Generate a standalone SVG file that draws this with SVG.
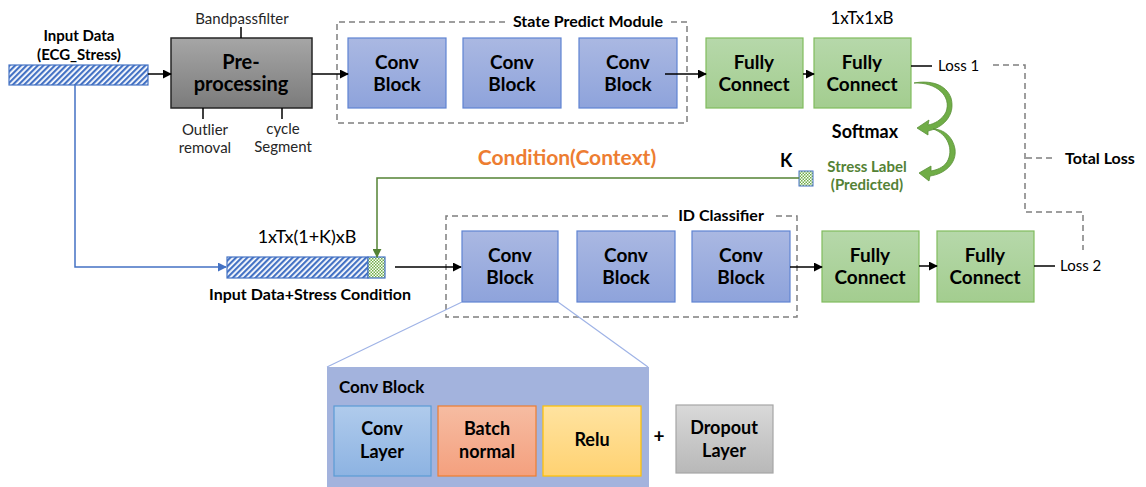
<svg xmlns="http://www.w3.org/2000/svg" width="1146" height="487" viewBox="0 0 1146 487">
<defs>
<linearGradient id="gBlue" x1="0" y1="0" x2="0" y2="1"><stop offset="0" stop-color="#aab8e2"/><stop offset="1" stop-color="#8ea3db"/></linearGradient>
<linearGradient id="gGreen" x1="0" y1="0" x2="0" y2="1"><stop offset="0" stop-color="#b6d8aa"/><stop offset="1" stop-color="#a3cd8f"/></linearGradient>
<linearGradient id="gGray" x1="0" y1="0" x2="0" y2="1"><stop offset="0" stop-color="#a6a6a6"/><stop offset="1" stop-color="#7b7b7b"/></linearGradient>
<linearGradient id="gLBlue" x1="0" y1="0" x2="0" y2="1"><stop offset="0" stop-color="#b0cbec"/><stop offset="1" stop-color="#8db3e2"/></linearGradient>
<linearGradient id="gOrange" x1="0" y1="0" x2="0" y2="1"><stop offset="0" stop-color="#f6bca2"/><stop offset="1" stop-color="#f4a07e"/></linearGradient>
<linearGradient id="gYellow" x1="0" y1="0" x2="0" y2="1"><stop offset="0" stop-color="#ffe3a0"/><stop offset="1" stop-color="#ffd272"/></linearGradient>
<linearGradient id="gDrop" x1="0" y1="0" x2="0" y2="1"><stop offset="0" stop-color="#d9d9d9"/><stop offset="1" stop-color="#b8b8b8"/></linearGradient>
<pattern id="hatch" width="4" height="4" patternUnits="userSpaceOnUse" patternTransform="rotate(45)">
<rect width="4" height="4" fill="#ffffff"/><rect width="2.2" height="4" fill="#4472c4"/>
</pattern>
<pattern id="check" width="3" height="3" patternUnits="userSpaceOnUse">
<rect width="3" height="3" fill="#ffffff"/><rect width="1.5" height="1.5" fill="#70ad47"/><rect x="1.5" y="1.5" width="1.5" height="1.5" fill="#70ad47"/>
</pattern>
<marker id="arr" viewBox="0 0 10 10" refX="9" refY="5" markerWidth="9" markerHeight="9" markerUnits="userSpaceOnUse" orient="auto"><path d="M0,0 L10,5 L0,10 z" fill="#000"/></marker>
<marker id="arrB" viewBox="0 0 10 10" refX="9" refY="5" markerWidth="9" markerHeight="9" markerUnits="userSpaceOnUse" orient="auto"><path d="M0,0 L10,5 L0,10 z" fill="#4472c4"/></marker>
<marker id="arrG" viewBox="0 0 10 10" refX="9" refY="5" markerWidth="9" markerHeight="9" markerUnits="userSpaceOnUse" orient="auto"><path d="M0,0 L10,5 L0,10 z" fill="#548235"/></marker>
</defs>
<style>
text{font-family:Lato,"Noto Sans",sans-serif;fill:#000}
.b{font-weight:bold}
.big{font-size:19px;font-weight:bold;text-anchor:middle}
.mid{text-anchor:middle}
.conv{fill:url(#gBlue);stroke:#5f84d2;stroke-width:1.2}
.fc{fill:url(#gGreen);stroke:#80bc5e;stroke-width:1.2}
.dash{fill:none;stroke:#7f7f7f;stroke-width:1.5;stroke-dasharray:6,4}
.ln{fill:none;stroke:#000;stroke-width:1.5}
.sm{font-size:15px;fill:#262626}
</style>
<rect width="1146" height="487" fill="#ffffff"/>

<!-- module frames -->
<g id="state-predict-module">
<path class="dash" d="M505,22 L337,22 L337,123 L687,123 L687,22 L671,22"/>
<text class="b mid" x="588" y="27" font-size="16">State Predict Module</text>
</g>
<g id="id-classifier">
<path class="dash" d="M668,216 L446,216 L446,317 L797,317 L797,216 L775,216"/>
<text class="b mid" x="721" y="221" font-size="16">ID Classifier</text>
</g>

<!-- input -->
<g id="input-data">
<text class="b mid" font-size="15"><tspan x="79" y="41">Input Data</tspan><tspan x="79" y="60">(ECG_Stress)</tspan></text>
<rect x="9" y="65" width="139" height="20" fill="url(#hatch)" stroke="#4472c4" stroke-width="1.2"/>
</g>

<g id="preprocessing">
<rect x="171" y="38" width="141" height="70" fill="url(#gGray)" stroke="#262626" stroke-width="1.5"/>
<text class="mid" font-size="20" font-weight="bold"><tspan x="241" y="69">Pre-</tspan><tspan x="241" y="91">processing</tspan></text>
<text class="sm mid" x="242" y="24">Bandpassfilter</text>
<text class="sm mid"><tspan x="205" y="135">Outlier</tspan><tspan x="205" y="153">removal</tspan></text>
<text class="sm mid"><tspan x="283" y="134">cycle</tspan><tspan x="283" y="152">Segment</tspan></text>
<path class="ln" d="M241,27 V38 M203,108 V119 M282,108 V119"/>
</g>

<g id="sp-conv1"><rect class="conv" x="348" y="38" width="98" height="70"/><text class="big"><tspan x="397" y="69">Conv</tspan><tspan x="397" y="91">Block</tspan></text></g>
<g id="sp-conv2"><rect class="conv" x="463" y="38" width="98" height="70"/><text class="big"><tspan x="512" y="69">Conv</tspan><tspan x="512" y="91">Block</tspan></text></g>
<g id="sp-conv3"><rect class="conv" x="579" y="38" width="98" height="70"/><text class="big"><tspan x="628" y="69">Conv</tspan><tspan x="628" y="91">Block</tspan></text></g>
<g id="sp-fc1"><rect class="fc" x="706" y="38" width="97" height="70"/><text class="big"><tspan x="754" y="69">Fully</tspan><tspan x="754" y="91">Connect</tspan></text></g>
<g id="sp-fc2"><rect class="fc" x="814" y="38" width="97" height="70"/><text class="big"><tspan x="862" y="69">Fully</tspan><tspan x="862" y="91">Connect</tspan></text>
<text class="mid" x="862" y="24" font-size="17" fill="#262626">1xTx1xB</text></g>

<g id="loss1"><text x="938" y="71" font-size="15" fill="#262626">Loss 1</text></g>
<g id="softmax"><text class="b mid" x="865" y="138" font-size="18">Softmax</text></g>
<g id="stress-label">
<text class="b mid" font-size="15" style="fill:#548235"><tspan x="867" y="172">Stress Label</tspan><tspan x="867" y="190">(Predicted)</tspan></text>
<text class="b" x="780" y="167" font-size="18">K</text>
<rect x="799" y="171" width="14" height="15" fill="url(#check)" stroke="#4472c4" stroke-width="1"/>
</g>
<g id="total-loss"><text class="b" x="1065" y="164" font-size="16">Total Loss</text></g>
<g id="condition"><text class="b mid" x="567" y="165" font-size="21" style="fill:#ed7d31">Condition(Context)</text></g>

<g id="input-condition">
<text class="mid" x="307" y="243" font-size="18" fill="#262626">1xTx(1+K)xB</text>
<rect x="227" y="257" width="141" height="21" fill="url(#hatch)" stroke="#4472c4" stroke-width="1.2"/>
<rect x="368" y="257" width="17" height="21" fill="url(#check)" stroke="#4472c4" stroke-width="1.2"/>
<text class="b mid" x="310" y="300" font-size="16">Input Data+Stress Condition</text>
</g>

<g id="id-conv1"><rect class="conv" x="462" y="231" width="96" height="71"/><text class="big"><tspan x="510" y="262">Conv</tspan><tspan x="510" y="284">Block</tspan></text></g>
<g id="id-conv2"><rect class="conv" x="577" y="231" width="98" height="71"/><text class="big"><tspan x="626" y="262">Conv</tspan><tspan x="626" y="284">Block</tspan></text></g>
<g id="id-conv3"><rect class="conv" x="692" y="231" width="98" height="71"/><text class="big"><tspan x="741" y="262">Conv</tspan><tspan x="741" y="284">Block</tspan></text></g>
<g id="id-fc1"><rect class="fc" x="822" y="231" width="97" height="71"/><text class="big"><tspan x="870" y="262">Fully</tspan><tspan x="870" y="284">Connect</tspan></text></g>
<g id="id-fc2"><rect class="fc" x="937" y="231" width="97" height="71"/><text class="big"><tspan x="985" y="262">Fully</tspan><tspan x="985" y="284">Connect</tspan></text></g>
<g id="loss2"><text x="1060" y="271" font-size="15" fill="#262626">Loss 2</text></g>

<!-- conv block detail -->
<g id="conv-block-detail">
<path d="M462,302 L327,367 M558,302 L648,367" stroke="#9fb3e6" stroke-width="1.2" fill="none"/>
<rect x="327" y="367" width="322" height="125" fill="#a3b3dd"/>
<text class="b" x="339" y="393" font-size="17">Conv Block</text>
<g id="conv-layer"><rect x="334" y="406" width="97" height="70" fill="url(#gLBlue)" stroke="#5b9bd5" stroke-width="1.2"/>
<text class="mid" font-size="18" font-weight="bold"><tspan x="382" y="435">Conv</tspan><tspan x="382" y="458">Layer</tspan></text></g>
<g id="batch-normal"><rect x="438" y="406" width="98" height="70" fill="url(#gOrange)" stroke="#ed7d31" stroke-width="1.2"/>
<text class="mid" font-size="18" font-weight="bold"><tspan x="487" y="435">Batch</tspan><tspan x="487" y="458">normal</tspan></text></g>
<g id="relu"><rect x="543" y="406" width="98" height="70" fill="url(#gYellow)" stroke="#ffc000" stroke-width="1.2"/>
<text class="mid" x="592" y="446" font-size="18" font-weight="bold">Relu</text></g>
</g>
<g id="plus"><text class="b mid" x="659" y="443" font-size="19">+</text></g>
<g id="dropout-layer"><rect x="676" y="405" width="97" height="68" fill="url(#gDrop)" stroke="#a6a6a6" stroke-width="1.2"/>
<text class="mid" font-size="18" font-weight="bold"><tspan x="724" y="434">Dropout</tspan><tspan x="724" y="457">Layer</tspan></text></g>

<!-- connectors -->
<g id="connectors">
<path class="ln" d="M148,74 H171" marker-end="url(#arr)"/>
<path class="ln" d="M312,74 H348" marker-end="url(#arr)"/>
<path class="ln" d="M665,74 H706" marker-end="url(#arr)"/>
<path class="ln" d="M803,74 H814" marker-end="url(#arr)"/>
<path class="ln" d="M911,66 H932"/>
<path class="dash" d="M993,65 H1025 V212 H1083 V250" stroke-width="1.2" stroke-dasharray="5,4"/>
<path class="dash" d="M1026,158 H1052" stroke-width="1.2" stroke-dasharray="5,4"/>
<path class="ln" d="M1034,266 H1055"/>
<path d="M75,85 V267 H226" fill="none" stroke="#4472c4" stroke-width="1.5" marker-end="url(#arrB)"/>
<path d="M799,178 H377 V257" fill="none" stroke="#548235" stroke-width="1.5" marker-end="url(#arrG)"/>
<path class="ln" d="M395,267 H461" marker-end="url(#arr)"/>
<path class="ln" d="M790,267 H822" marker-end="url(#arr)"/>
<path class="ln" d="M919,266 H937" marker-end="url(#arr)"/>
<!-- green curved arrows -->
<path d="M914,83 C936,82 952,96 946,112 C942,120 934,124 928,125 L929,120 L917,128 L928,135 L928,131 C942,128 956,116 951,98 C946,84 930,80 914,83 Z" fill="#70ad47" stroke="#5a9138" stroke-width="0.8"/>
<path d="M933,129 C948,134 954,150 947,162 C943,168 936,170 931,171 L931,166 L919,173 L929,181 L930,176 C945,174 957,163 955,149 C953,137 944,129 933,129 Z" fill="#70ad47" stroke="#5a9138" stroke-width="0.8"/>
</g>
</svg>
